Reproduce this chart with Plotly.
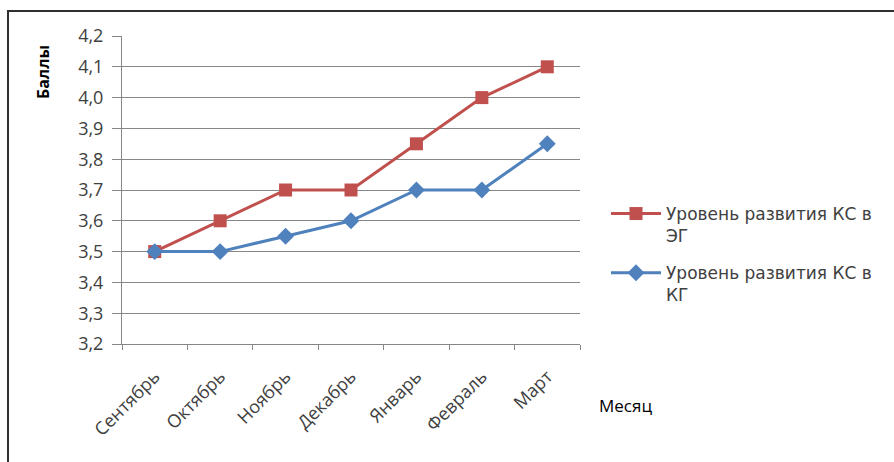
import plotly.graph_objects as go

months = ["Сентябрь", "Октябрь", "Ноябрь", "Декабрь", "Январь", "Февраль", "Март"]
eg_values = [3.5, 3.6, 3.7, 3.7, 3.85, 4.0, 4.1]
kg_values = [3.5, 3.5, 3.55, 3.6, 3.7, 3.7, 3.85]
eg_name = "Уровень развития КС в<br>ЭГ"
kg_name = "Уровень развития КС в<br>КГ"
y_ticks = [3.2, 3.3, 3.4, 3.5, 3.6, 3.7, 3.8, 3.9, 4.0, 4.1, 4.2]

W, H = 894, 462
L, R, T, B = 122, 580, 36, 344

def px_x(p):
    return (p - L) / (R - L)

def px_y(p):
    return (B - p) / (B - T)

font_family = "Open Sans, DejaVu Sans, sans-serif"

fig = go.Figure()
fig.add_trace(go.Scatter(
    x=months, y=eg_values, name=eg_name, mode="lines+markers",
    line=dict(color="#C0504D", width=3),
    marker=dict(symbol="square", size=13, color="#C0504D"),
    legendgroup="eg",
))
fig.add_trace(go.Scatter(
    x=months, y=kg_values, name=kg_name, mode="lines+markers",
    line=dict(color="#4F81BD", width=3),
    marker=dict(symbol="diamond", size=13, color="#4F81BD"),
    legendgroup="kg",
))

fig.update_layout(
    width=W, height=H,
    margin=dict(l=L, r=W - R, t=T, b=H - B, pad=0),
    paper_bgcolor="white", plot_bgcolor="white",
    separators=", ",
    font=dict(family=font_family, size=15, color="#404040"),
    showlegend=True,
    legend=dict(
        x=px_x(606), y=px_y(196), xanchor="left", yanchor="top",
        font=dict(size=17, family="DejaVu Sans, sans-serif", color="#404040"),
        traceorder="grouped", tracegroupgap=12, valign="top",
        bgcolor="rgba(0,0,0,0)", itemwidth=50,
    ),
    xaxis=dict(
        type="category", range=[-0.5, 6.5],
        showgrid=False, showline=True, linecolor="#868686", linewidth=1,
        ticks="outside", ticklen=5, tickcolor="#868686", tickson="boundaries",
        tickangle=-45, tickfont=dict(size=18, color="#404040"),
        ticklabelstandoff=14, zeroline=False,
    ),
    yaxis=dict(
        range=[3.2, 4.2], tickvals=y_ticks, tickformat=".1f",
        showgrid=True, gridcolor="#868686", gridwidth=1,
        showline=True, linecolor="#868686", linewidth=1,
        ticks="outside", ticklen=9, tickcolor="#868686",
        tickfont=dict(size=18, color="#404040"),
        ticklabelstandoff=5, zeroline=False,
    ),
    shapes=[dict(
        type="rect", xref="paper", yref="paper",
        x0=px_x(8), x1=px_x(910), y0=px_y(480), y1=px_y(11),
        line=dict(color="#303030", width=2), fillcolor="rgba(0,0,0,0)", layer="below",
    )],
    annotations=[
        dict(text="<b>Баллы</b>", xref="paper", yref="paper",
             x=px_x(43), y=px_y(72), textangle=-90, showarrow=False,
             font=dict(size=16, color="#000000"), xanchor="center", yanchor="middle"),
        dict(text="Месяц", xref="paper", yref="paper",
             x=px_x(597), y=px_y(405), showarrow=False, xanchor="left", yanchor="middle",
             font=dict(size=17, color="#000000")),
    ],
)

fig.write_html("out.html")
